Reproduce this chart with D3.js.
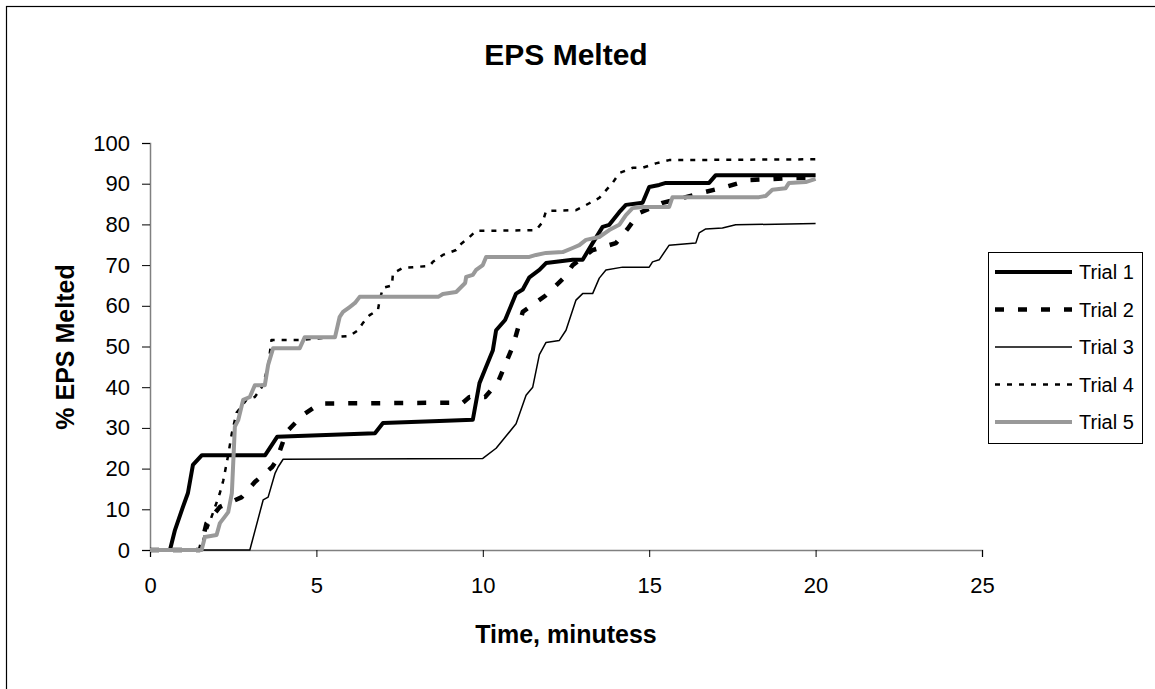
<!DOCTYPE html>
<html><head><meta charset="utf-8">
<script src="https://cdn.jsdelivr.net/npm/d3@7"></script>
<style>body{margin:0;background:#fff}svg{display:block}text{font-family:"Liberation Sans",Arial,sans-serif}</style>
</head><body>
<svg id="c" width="1155" height="689"></svg>
<script>
const title = "EPS Melted";
const xTitle = "Time, minutess";
const yTitle = "% EPS Melted";
const xTicks = [0,5,10,15,20,25];
const yTicks = [0,10,20,30,40,50,60,70,80,90,100];
const seriesNames = ["Trial 1","Trial 2","Trial 3","Trial 4","Trial 5"];

const trial1 = [[0,0],[0.6,0],[0.75,4.9],[0.99,10.6],[1.14,14],[1.29,20.9],[1.56,23.3],[3.46,23.3],[3.82,27.8],[6.76,28.7],[7.0,31.2],[8.7,31.7],[9.7,32],[9.9,41],[10.1,45],[10.3,49],[10.4,54],[10.67,56.5],[11.0,63],[11.2,64],[11.4,67],[11.7,68.8],[11.9,70.5],[12.7,71.3],[13.0,71.3],[13.3,75.4],[13.6,79.4],[13.8,79.9],[14.1,83],[14.3,84.8],[14.8,85.3],[15.0,89.2],[15.3,89.7],[15.5,90.2],[16.8,90.2],[17.0,92.1],[20.0,92.1]];
const trial2 = [[0,0],[1.5,0],[1.7,6.6],[2.1,10.6],[2.76,13],[3.15,16.7],[3.67,20.4],[3.8,22],[4.1,29],[4.6,33.2],[5.1,36],[9.4,36.2],[9.6,37.6],[10.07,37.6],[10.46,41.3],[10.9,50],[11.2,58.5],[11.9,62.6],[12.4,66.6],[12.7,70],[13.3,73.7],[14.0,75.4],[14.36,79],[14.7,82.8],[15.4,85.3],[16.0,86.5],[16.7,88],[17.3,89.2],[18.0,90.9],[19.3,91.4],[20.0,91.5]];
const trial3 = [[0,0],[3.0,0],[3.4,12.3],[3.55,13],[3.76,18.9],[3.85,20.4],[4.0,22.3],[10.0,22.5],[10.4,25],[10.7,28],[11.0,31],[11.3,38],[11.5,40],[11.7,48],[11.9,51],[12.3,51.5],[12.5,54],[12.8,61.4],[13.0,63],[13.3,63],[13.5,66.8],[13.7,68.8],[14.2,69.5],[15.0,69.5],[15.1,70.8],[15.3,71.3],[15.6,74.9],[16.4,75.4],[16.5,77.9],[16.7,78.9],[17.2,79.1],[17.6,79.9],[20.0,80.2]];
const trial4 = [[0,0],[1.5,0],[1.6,2.5],[1.9,9.3],[2.1,14],[2.2,17],[2.34,22.9],[2.46,28.7],[2.6,33.7],[2.9,36.9],[3.15,37.6],[3.36,40],[3.55,45],[3.65,51.6],[4.5,51.6],[6.0,52.6],[6.25,54],[6.4,55.8],[6.6,57.7],[6.85,59],[6.9,61.4],[7.0,64.4],[7.27,65],[7.3,68],[7.6,69.3],[8.4,69.8],[8.5,70.8],[8.8,72.5],[9.2,73.7],[9.3,74.9],[9.6,76.9],[9.8,78.4],[11.6,78.6],[11.8,80.6],[11.9,83.3],[12.8,83.5],[13.0,84.3],[13.2,85.2],[13.5,86.5],[13.9,90.2],[14.1,92.6],[14.5,93.9],[14.8,93.9],[15.2,95],[15.6,95.8],[20.0,96]];
const trial5 = [[0,0],[1.55,0],[1.65,3.2],[2.0,3.7],[2.1,6.6],[2.25,8.2],[2.35,9.3],[2.46,14],[2.55,30.3],[2.65,31.9],[2.8,36.9],[3.0,37.6],[3.15,40.5],[3.45,40.5],[3.55,45.5],[3.7,49.6],[4.5,49.6],[4.65,52.3],[5.56,52.3],[5.7,57.3],[5.8,58.5],[6.0,59.7],[6.16,60.7],[6.3,62.2],[8.66,62.2],[8.8,62.9],[9.2,63.4],[9.47,65.6],[9.5,67.1],[9.7,67.6],[9.8,68.8],[10.0,70],[10.1,72],[11.4,72],[11.6,72.5],[11.9,73],[12.4,73.2],[12.7,74.2],[12.9,74.9],[13.1,76.2],[13.5,76.9],[13.8,78.6],[14.1,79.9],[14.3,82.3],[14.5,84],[14.8,84.3],[15.6,84.3],[15.7,86.7],[18.3,86.7],[18.5,87],[18.7,88.5],[19.1,88.9],[19.2,90.2],[19.7,90.4],[20.0,91.2]];

const series = [trial1, trial2, trial3, trial4, trial5];
const styles = [
  {stroke:"#000", w:4, dash:null},
  {stroke:"#000", w:4.5, dash:"9,14"},
  {stroke:"#000", w:1.5, dash:null},
  {stroke:"#000", w:2.5, dash:"5,7"},
  {stroke:"#999", w:4, dash:null}
];

const svg = d3.select("#c");
svg.append("rect").attr("width",1155).attr("height",689).attr("fill","#fff");
svg.append("rect").attr("x",6.5).attr("y",6.5).attr("width",1160).attr("height",700)
  .attr("fill","none").attr("stroke","#000").attr("stroke-width",1.2);

const x = d3.scaleLinear().domain([0,25]).range([150,982]);
const y = d3.scaleLinear().domain([0,100]).range([550,143]);

const xa = svg.append("g").attr("transform","translate(0,550)")
  .call(d3.axisBottom(x).tickValues(xTicks).tickSize(7).tickPadding(20).tickFormat(d3.format("d")));
const ya = svg.append("g").attr("transform","translate(150,0)")
  .call(d3.axisLeft(y).tickValues(yTicks).tickSize(8).tickPadding(12).tickFormat(d3.format("d")));
[xa,ya].forEach(g=>{
  g.select(".domain").attr("stroke","#808080").attr("stroke-width",1.5);
  g.selectAll(".tick line").attr("stroke","#000").attr("stroke-width",1);
  g.selectAll(".tick text").attr("fill","#000").attr("font-size",22).attr("font-family","Liberation Sans, Arial");
});

const line = d3.line().x(d=>x(d[0])).y(d=>y(d[1]));
series.forEach((s,i)=>{
  const st = styles[i];
  svg.append("path").datum(s).attr("d",line).attr("fill","none")
    .attr("stroke",st.stroke).attr("stroke-width",st.w)
    .attr("stroke-dasharray",st.dash).attr("stroke-linejoin","round");
});
svg.append("text").attr("x",566).attr("y",65).attr("text-anchor","middle")
  .attr("font-size",30).attr("font-weight","bold").text(title);
svg.append("text").attr("x",566).attr("y",643).attr("text-anchor","middle")
  .attr("font-size",25).attr("font-weight","bold").text(xTitle);
svg.append("text").attr("transform","translate(74,347) rotate(-90)").attr("text-anchor","middle")
  .attr("font-size",25).attr("font-weight","bold").text(yTitle);

const lg = svg.append("g");
lg.append("rect").attr("x",988.5).attr("y",252.5).attr("width",154).attr("height",191)
  .attr("fill","#fff").attr("stroke","#000").attr("stroke-width",1);
seriesNames.forEach((n,i)=>{
  const yy = 272 + i*37.5;
  const st = styles[i];
  lg.append("line").attr("x1",995).attr("x2",1072).attr("y1",yy).attr("y2",yy)
    .attr("stroke",st.stroke).attr("stroke-width",st.w).attr("stroke-dasharray",st.dash);
  lg.append("text").attr("x",1079).attr("y",yy+7).attr("font-size",20).text(n);
});
</script>
</body></html>
